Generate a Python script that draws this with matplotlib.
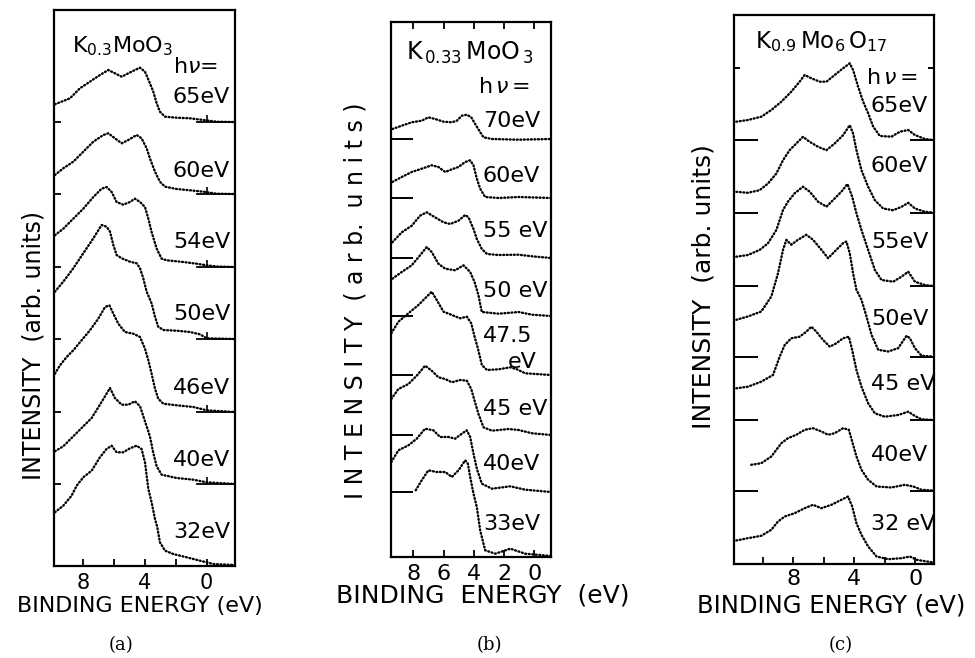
import matplotlib.pyplot as plt

W, H = 975, 658
plt.rcParams['font.family'] = ['DejaVu Sans']
plt.rcParams['mathtext.fontset'] = 'dejavusans'

# ---------------- (a) K0.3MoO3 ----------------
a_hv = ['65eV', '60eV', '54eV', '50eV', '46eV', '40eV', '32eV']
a_base = [444, 372, 299, 227, 154, 82, 1]
a_E = [
    [9.84, 8.86, 8.22, 7.57, 6.92, 6.38, 5.95, 5.51, 5.08, 4.65, 4.32, 4.0, 3.72, 3.46, 3.24, 3.03, 2.70, 1.95, 1.08, 0.22, -0.65, -1.84],
    [9.84, 9.30, 8.65, 8.0, 7.35, 6.70, 6.38, 5.95, 5.51, 5.08, 4.54, 4.22, 3.89, 3.68, 3.35, 3.03, 2.70, 1.95, 1.08, 0.22, -0.65, -1.84],
    [9.84, 9.30, 8.65, 8.0, 7.35, 6.81, 6.49, 6.16, 5.84, 5.41, 4.97, 4.65, 4.32, 4.0, 3.78, 3.57, 3.24, 2.92, 2.59, 1.51, 0.65, 0, -0.65, -1.84],
    [9.84, 9.30, 8.65, 8.0, 7.35, 6.81, 6.49, 6.27, 6.05, 5.84, 5.51, 4.97, 4.54, 4.32, 4.11, 3.89, 3.57, 3.35, 3.14, 2.81, 1.95, 1.08, 0.43, 0, -1.84],
    [9.84, 9.51, 9.08, 8.65, 8.11, 7.57, 7.03, 6.59, 6.31, 6.05, 5.73, 5.30, 4.76, 4.32, 4.0, 3.78, 3.57, 3.35, 3.14, 2.81, 1.95, 0.86, 0, -1.84],
    [9.84, 9.30, 8.65, 8.0, 7.46, 6.92, 6.59, 6.27, 5.95, 5.51, 5.08, 4.65, 4.32, 4.0, 3.68, 3.46, 3.24, 2.92, 1.95, 0.86, 0, -1.84],
    [9.84, 9.30, 8.76, 8.43, 8.0, 7.46, 6.92, 6.49, 6.16, 5.84, 5.41, 4.97, 4.54, 4.22, 4.0, 3.78, 3.57, 3.35, 3.20, 3.03, 2.70, 2.16, 1.30, 0.43, -0.43, -1.84],
]
a_I = [
    [17.7, 23.7, 33.7, 40.3, 47, 52, 48.7, 45.3, 48.7, 52, 54.3, 50.3, 40.3, 30.3, 18.7, 10.3, 5.3, 4.3, 3.7, 2, 0.3, 0],
    [19, 25.7, 32.3, 42.3, 52.3, 59, 60.7, 55.7, 50.7, 54, 59, 55.7, 45.7, 35.7, 22.3, 12.3, 7.3, 5, 3.7, 2.3, 0.3, 0],
    [31.7, 38.3, 48.3, 58.3, 70, 78.3, 80, 75, 65, 62.3, 65, 68.3, 65, 60, 48.3, 35, 18.3, 8.3, 6.7, 5, 3.3, 1.7, 0.5, 0],
    [47.3, 57.3, 70.7, 85.7, 100.7, 114, 112.3, 107.3, 94, 84, 80.7, 77.3, 75.7, 70.7, 60.7, 47.3, 35.7, 22.3, 12.3, 9, 8.3, 7, 4.7, 0.7, 0],
    [38.3, 46.7, 55, 61.7, 71.7, 81.7, 93.3, 105, 106.7, 98.3, 88.3, 80, 78.3, 75, 63.3, 51.7, 38.3, 23.3, 13.3, 8.3, 6.7, 5, 1.7, 0],
    [32.7, 37.7, 47.7, 57.7, 66, 79.3, 87.7, 96, 86, 79.3, 79.3, 82.7, 77.7, 62.7, 47.7, 31, 17.7, 9.3, 6, 4.3, 1.7, 0],
    [52.7, 59.3, 69.3, 79.3, 87.7, 94.3, 107.7, 116, 119.3, 112.7, 112.7, 116.7, 119.3, 116, 102.7, 76, 62.7, 46, 37.7, 22.7, 14.3, 11, 7.7, 4.3, 1, 0],
]

# ---------------- (b) K0.33MoO3 ----------------
b_hv = ['70eV', '60eV', '55 eV', '50 eV', '47.5', '45 eV', '40eV', '33eV']
b_base = [418, 359, 299, 241, 182, 122, 65, 1]
b_E = [
    [9.38, 8.76, 8.10, 7.44, 7.0, 6.56, 6.0, 5.45, 5.12, 4.79, 4.46, 4.17, 3.91, 3.64, 3.36, 2.80, 1.04, -1.10],
    [9.38, 8.76, 8.10, 7.44, 6.78, 6.34, 5.89, 5.45, 5.01, 4.57, 4.24, 4.02, 3.80, 3.58, 3.25, 2.36, 1.04, -1.10],
    [9.38, 8.76, 8.10, 7.55, 7.11, 6.56, 6.0, 5.56, 5.01, 4.57, 4.35, 4.02, 3.80, 3.47, 3.13, 2.36, 1.04, 0.15, -1.10],
    [9.38, 8.76, 8.10, 7.55, 7.11, 6.78, 6.34, 5.89, 5.23, 4.68, 4.24, 3.95, 3.69, 3.58, 3.47, 2.36, 1.04, 0.15, -1.10],
    [9.45, 8.98, 8.32, 7.66, 7.11, 6.78, 6.45, 6.0, 5.45, 4.90, 4.46, 4.17, 3.95, 3.73, 3.47, 3.13, 2.36, 1.59, 1.15, 0.60, -1.10],
    [9.45, 8.98, 8.32, 7.77, 7.22, 6.78, 6.34, 5.89, 5.45, 4.90, 4.46, 4.17, 3.95, 3.69, 3.36, 2.80, 1.70, 1.04, 0.15, -1.10],
    [9.45, 8.98, 8.32, 7.77, 7.22, 6.67, 6.23, 5.67, 5.23, 4.79, 4.46, 4.24, 4.02, 3.80, 3.47, 2.80, 1.59, 0.60, -1.10],
    [7.84, 7.44, 7.0, 6.45, 5.89, 5.45, 5.01, 4.57, 4.39, 4.24, 4.02, 3.80, 3.58, 3.25, 2.58, 1.59, 0.60, -1.10],
]
b_I = [
    [10, 13.3, 16.7, 18.3, 21.7, 20, 17.3, 16.7, 18.3, 23.3, 24.3, 21.7, 15, 8.3, 1.7, 0, -0.7, 0],
    [16, 21, 26, 29.3, 32.7, 31, 26, 28.7, 31, 36, 37.7, 32.7, 19.3, 9.3, 1, 0, 1, 0],
    [15.7, 25.7, 32.3, 42.3, 45.7, 40.7, 35.7, 34, 37.3, 43, 40.7, 29, 19, 9, 4, 3, 3.3, 1.7, 0],
    [37.3, 44, 50.7, 60.7, 69, 64, 52.3, 47.3, 45.7, 50.7, 44, 34, 20.7, 12, 4, 2.3, 4, 1.3, 0],
    [41.7, 53.3, 61.7, 70, 78.3, 83.3, 75, 63.3, 60, 56.7, 58.3, 51.7, 38.3, 26.7, 10, 5, 5.7, 7.7, 5.7, 1.7, 0],
    [36, 46, 51, 59.3, 69.3, 64.3, 57.7, 56, 52.7, 55, 54.3, 46, 34.3, 21, 7.7, 4.3, 6, 5, 1.7, 0],
    [30, 41.7, 46.7, 53.3, 63.3, 61.7, 55, 55, 53.3, 58.3, 61.7, 55, 38.3, 23.3, 8.3, 3.3, 5.7, 2.3, 0],
    [65.7, 75.7, 85.7, 84, 84, 79, 85.7, 95.7, 92.3, 79, 62.3, 49, 25.7, 5.7, 2.3, 7.3, 2.3, 0],
]

# ---------------- (c) K0.9Mo6O17 ----------------
c_hv = ['65eV', '60eV', '55eV', '50eV', '45 eV', '40eV', '32 eV']
c_base = [423.5, 351, 277.5, 207, 143.5, 73, 1]
c_E = [
    [11.75, 10.99, 10.11, 9.45, 8.79, 8.14, 7.59, 7.26, 6.82, 6.27, 5.83, 5.29, 4.74, 4.30, 4.08, 3.75, 3.42, 3.09, 2.76, 2.32, 1.56, 1.01, 0.46, 0.02, -0.64, -1.18],
    [11.75, 10.99, 10.22, 9.67, 9.12, 8.68, 8.25, 7.81, 7.37, 6.93, 6.38, 5.83, 5.29, 4.74, 4.30, 4.08, 3.86, 3.53, 3.09, 2.65, 2.11, 1.45, 0.90, 0.46, 0.02, -0.64, -1.18],
    [11.75, 10.99, 10.22, 9.67, 9.12, 8.68, 8.36, 7.92, 7.37, 6.93, 6.38, 5.83, 5.39, 4.85, 4.45, 4.14, 3.86, 3.53, 3.09, 2.65, 2.21, 1.45, 0.90, 0.46, 0.02, -0.64, -1.18],
    [11.75, 10.99, 10.11, 9.45, 9.01, 8.68, 8.46, 8.14, 7.70, 7.15, 6.71, 6.16, 5.72, 5.29, 4.74, 4.52, 4.30, 4.08, 3.86, 3.53, 3.20, 2.87, 2.43, 1.78, 1.12, 0.57, 0.35, 0.02, -0.42, -1.18],
    [11.75, 10.99, 10.11, 9.34, 8.90, 8.57, 8.14, 7.59, 7.15, 6.82, 6.49, 6.05, 5.61, 5.18, 4.74, 4.36, 4.14, 3.86, 3.53, 3.09, 2.65, 2.0, 1.12, 0.46, 0.02, -0.42, -1.18],
    [10.77, 10.11, 9.45, 8.79, 8.36, 7.81, 7.26, 6.71, 6.16, 5.72, 5.29, 4.74, 4.36, 4.14, 3.86, 3.53, 3.09, 2.54, 1.56, 0.68, 0.13, -0.42, -1.18],
    [11.75, 10.99, 10.11, 9.45, 9.01, 8.57, 7.92, 7.26, 6.71, 6.16, 5.50, 4.85, 4.41, 4.14, 3.86, 3.53, 3.09, 2.54, 1.78, 0.90, 0.35, -0.09, -1.18],
]
c_I = [
    [18.3, 20, 23.3, 30, 38.3, 48.3, 58.3, 65, 61.7, 58.3, 58.3, 65, 71.7, 76.7, 70, 53.3, 38.3, 26.7, 13.3, 4, 3.3, 8.3, 10, 5, 1, 0],
    [20.7, 19.7, 22.3, 29, 39, 52.3, 62.3, 69, 75.7, 70.7, 65.7, 62.3, 69, 77.3, 87.3, 79, 62.3, 42.3, 25.7, 12.3, 4, 2.3, 5.7, 9.7, 4, 0.7, 0],
    [29.3, 31, 36, 42.7, 56, 76, 84.3, 92.7, 99.3, 94.3, 84.3, 79.3, 86, 94.3, 102, 89.3, 72.7, 56, 36, 16, 6, 4.3, 9.3, 14.3, 4.3, 1, 0],
    [36.7, 40, 45, 60, 83.3, 106.7, 116.7, 111.7, 116.7, 121.7, 116.7, 106.7, 98.3, 105, 113.3, 115, 103.3, 83.3, 66.7, 56.7, 40, 21.7, 6.7, 5, 8.3, 20.7, 18.3, 8.3, 0.7, 0],
    [31.7, 33.3, 38.3, 45, 63.3, 75, 81.7, 83.3, 88.3, 93.3, 88.3, 80, 73.3, 76.7, 81.7, 83.3, 70, 50, 33.3, 16.7, 6.7, 3.3, 5, 8.3, 4, 0.7, 0],
    [25.7, 27.3, 34, 47.3, 52.3, 55.7, 60.7, 62.3, 59, 55.7, 57.3, 62.3, 60.7, 49, 34, 20.7, 10.7, 4, 3, 5.7, 4, 0.7, 0],
    [22, 24.3, 26.7, 32.7, 41, 46, 49.3, 54.3, 57.7, 54.3, 57.7, 62.7, 66, 56, 39.3, 27.7, 16, 6, 3.3, 4.3, 6, 2.7, 0],
]

fig = plt.figure(figsize=(9.75, 6.58), dpi=100)


def add_panel(l, t, r, b, xlim, ylim):
    ax = fig.add_axes([l / W, 1 - b / H, (r - l) / W, (b - t) / H])
    ax.set_xlim(*xlim)
    ax.set_ylim(*ylim)
    for s in ax.spines.values():
        s.set_linewidth(1.6)
    return ax


def draw_spectra(ax, E, I, base):
    for e, i, b0 in zip(E, I, base):
        ax.plot(e, [b0 + v for v in i], color='k', lw=1.7,
                ls=(0, (0.4, 1.1)), dash_capstyle='round')


def txt(x, y, s, **kw):
    # place text by pixel position in the 975x658 frame
    fig.text(x / W, 1 - y / H, s, **kw)


# panel (a)
ax = add_panel(54, 10, 235, 566, (9.9, -1.84), (0, 556))
draw_spectra(ax, a_E, a_I, a_base)
for b0 in a_base[:-1]:
    ax.plot([0.6, -1.84], [b0, b0], color='k', lw=1.3)
    ax.plot(0, b0, marker=2, ms=5, mew=1.2, color='k')
ax.set_xticks([8, 4, 0])
ax.set_xticks([6, 2], minor=True)
ax.set_xticklabels(['8', '4', '0'])
ax.set_yticks(a_base[:-1])
ax.set_yticklabels([])
ax.tick_params(which='both', direction='in', length=5, width=1.3, labelsize=15, pad=5)

# panel (b)
ax = add_panel(391, 22, 551, 557, (9.47, -1.1), (0, 535))
draw_spectra(ax, b_E, b_I, b_base)
ax.set_xticks([8, 6, 4, 2, 0])
ax.set_xticklabels(['8', '6', '4', '2', '0'])
ax.tick_params(axis='x', direction='in', length=5, width=1.3, top=True, labelsize=16, pad=5)
ax.set_yticks(b_base[:-1])
ax.set_yticklabels([])
ax.tick_params(axis='y', direction='in', length=16, width=1.4)

# panel (c)
ax = add_panel(734, 15, 933.5, 563.5, (11.9, -1.2), (0, 548.5))
draw_spectra(ax, c_E, c_I, c_base)
ax.set_xticks([8, 4, 0])
ax.set_xticks([10, 6, 2], minor=True)
ax.set_xticklabels(['8', '4', '0'])
ax.tick_params(axis='x', which='both', direction='in', length=5, width=1.3, labelsize=16, pad=4)
ax.set_yticks(c_base[:-1])
ax.set_yticks([496], minor=True)
ax.set_yticklabels([])
ax.tick_params(axis='y', direction='in', length=17, width=1.4, right=True)
ax.tick_params(axis='y', which='minor', direction='in', length=4, width=1.4, right=True)

# ---- text ----
fs = 16
txt(72, 52, r'K$_{0.3}$MoO$_3$', fontsize=16, va='baseline')
txt(173, 73, r'h$\nu$=', fontsize=fs, va='baseline')
for s, y in zip(a_hv, [103, 177, 248, 320, 394, 466, 538]):
    txt(173, y, s, fontsize=fs, va='baseline')

txt(406, 60, r'K$_{\,0.33}\,$MoO$_{\,3}$', fontsize=17, va='baseline')
txt(478, 93, r'h$\,\nu\,$=', fontsize=fs, va='baseline')
for s, y in zip(b_hv, [127, 182, 237, 297, 342, 415, 470, 530]):
    txt(483, y, s, fontsize=fs, va='baseline')
txt(537, 368, 'eV', fontsize=fs, va='baseline', ha='right')

txt(755, 48, r'K$_{0.9}\,$Mo$_{6}\,$O$_{17}$', fontsize=16.5, va='baseline')
txt(866, 84, r'h$\,\nu\,$=', fontsize=fs, va='baseline')
for s, y in zip(c_hv, [112, 172, 248, 325, 390, 461, 530]):
    txt(871, y, s, fontsize=fs, va='baseline')

txt(140, 606, 'BINDING ENERGY (eV)', fontsize=16, ha='center', va='center')
txt(483, 596, 'BINDING  ENERGY  (eV)', fontsize=18, ha='center', va='center')
txt(831, 605, 'BINDING ENERGY (eV)', fontsize=17.5, ha='center', va='center')

txt(34, 345, 'INTENSITY  (arb. units)', fontsize=17, rotation=90, ha='center', va='center')
txt(355, 301, 'I N T E N S I T Y  ( a r b.  u n i t s )', fontsize=17, rotation=90,
    ha='center', va='center')
txt(703, 287, 'INTENSITY  (arb. units)', fontsize=18, rotation=90, ha='center', va='center')

for s, x in zip(['(a)', '(b)', '(c)'], [121, 489, 841]):
    txt(x, 645, s, fontsize=13, family='DejaVu Serif', ha='center', va='center')

fig.savefig('out.png', dpi=100, facecolor='white')
